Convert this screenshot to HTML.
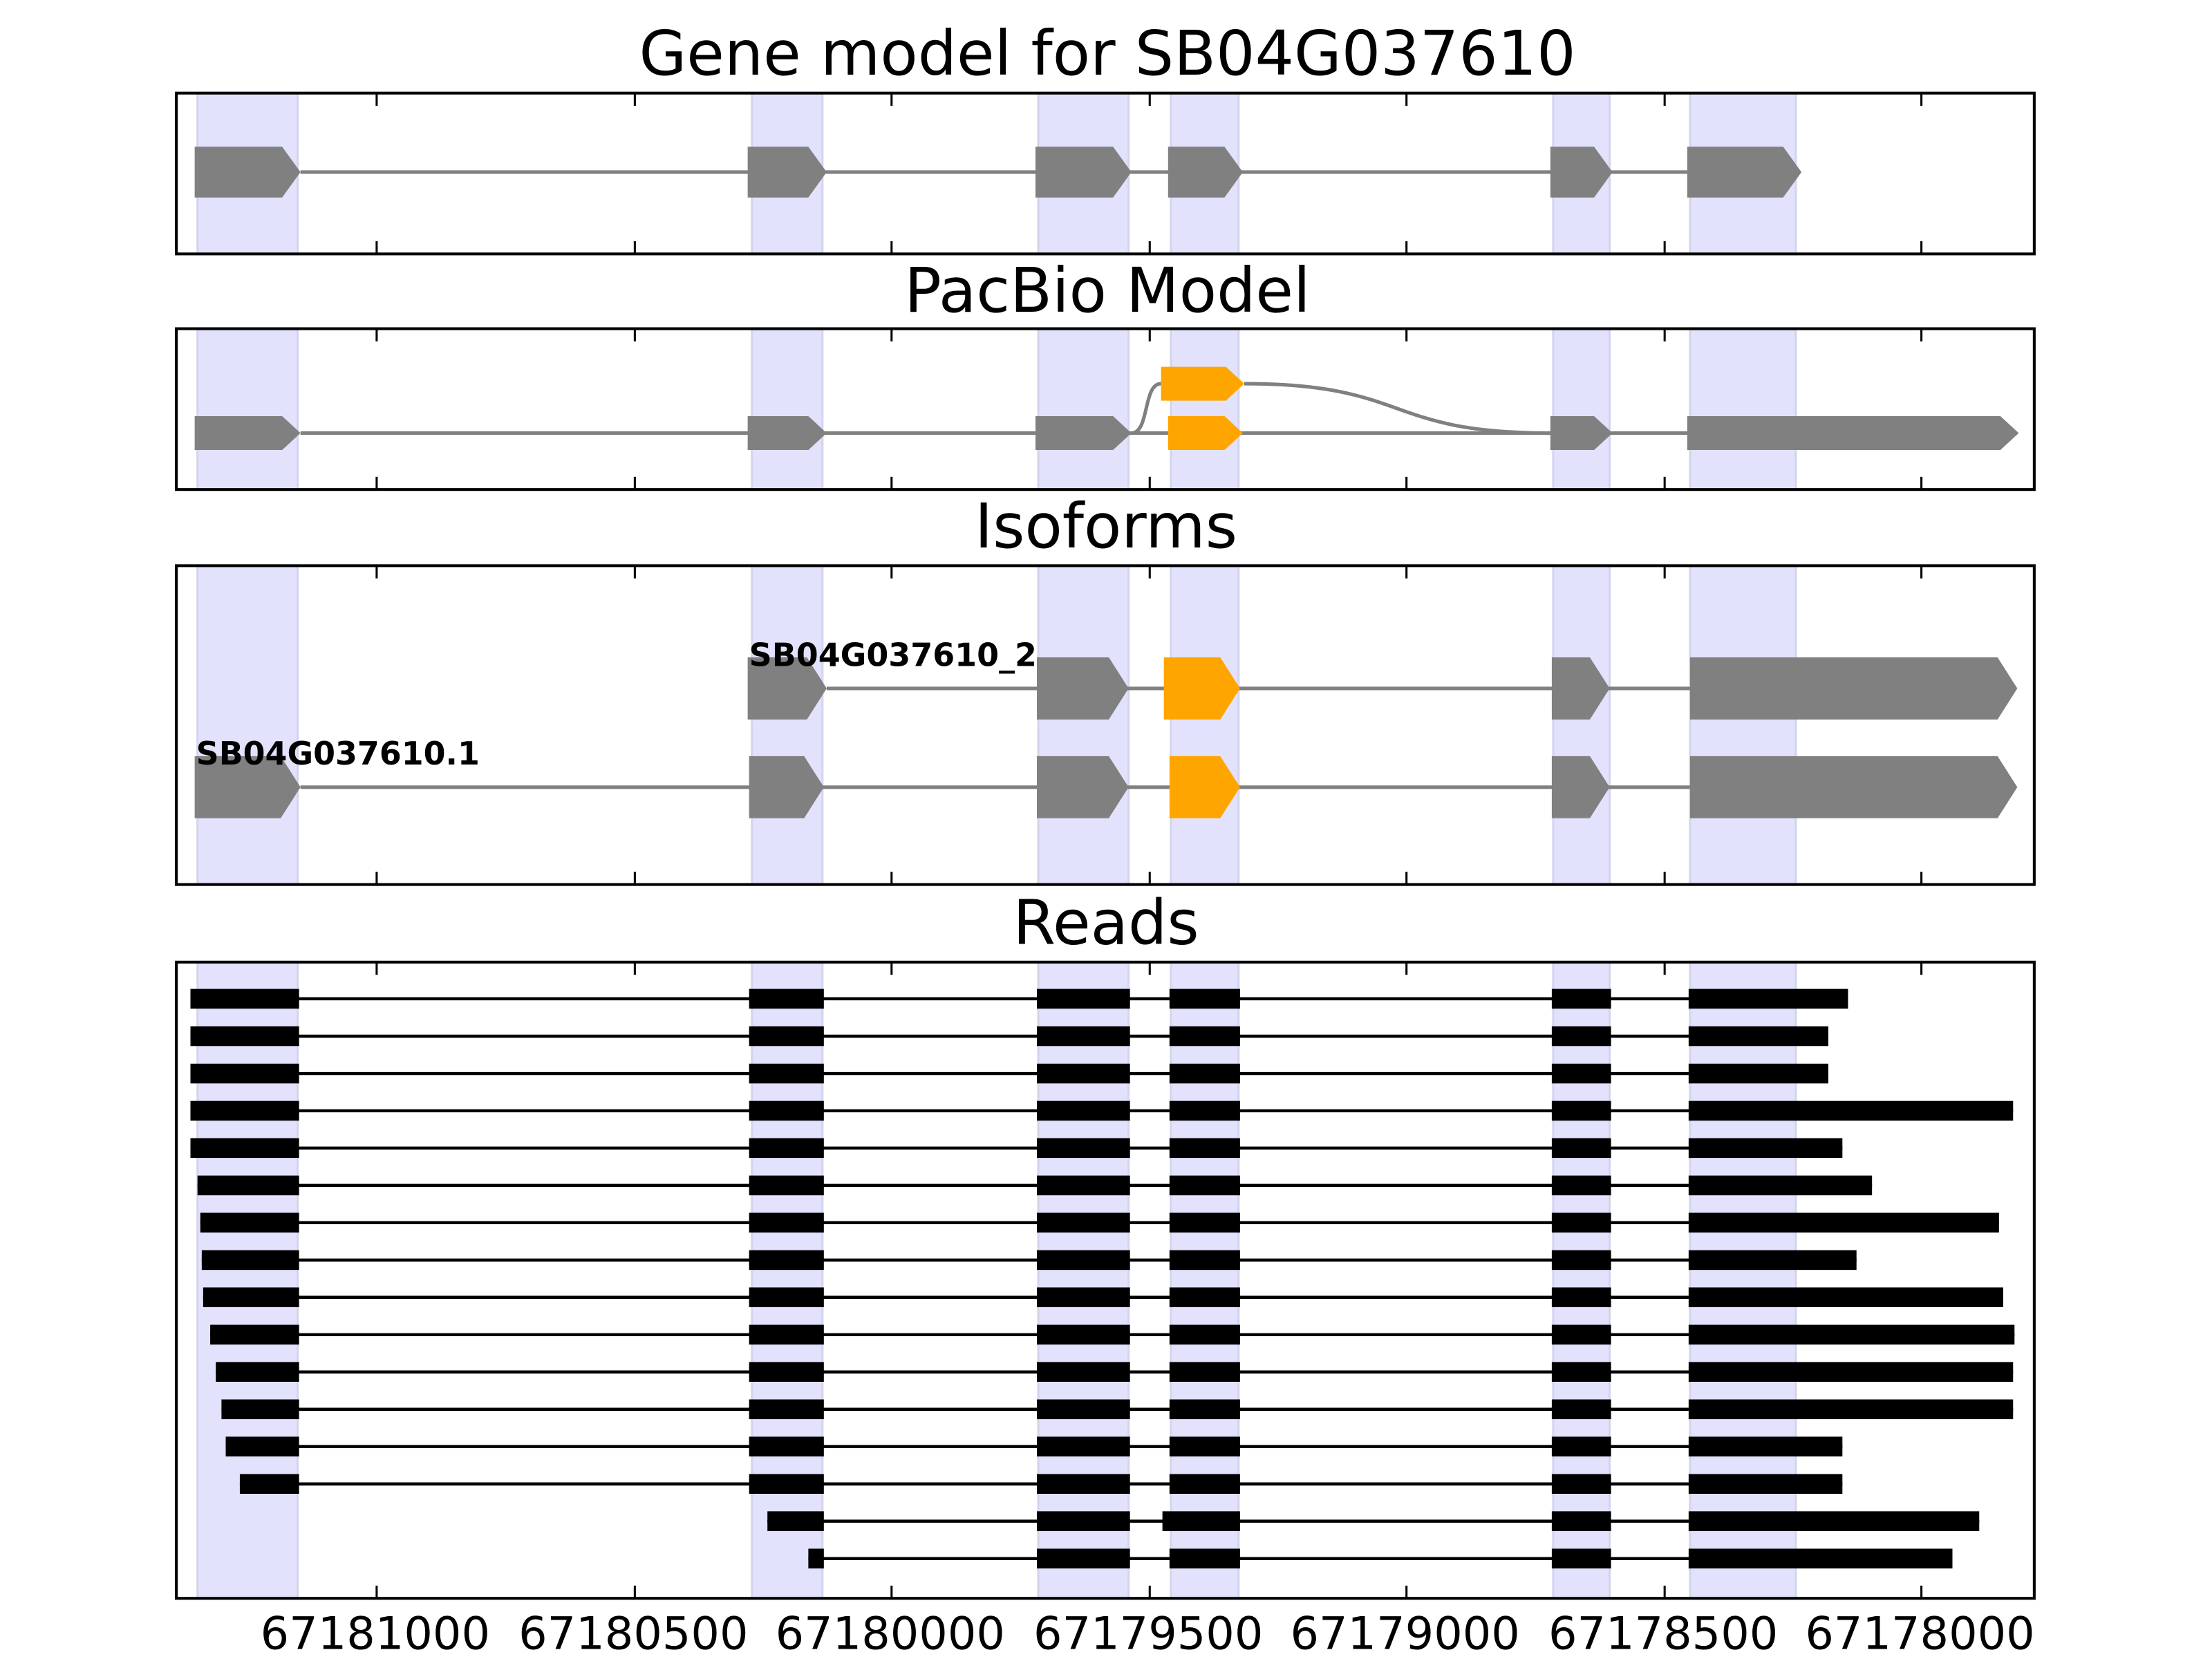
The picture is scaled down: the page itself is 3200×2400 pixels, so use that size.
<!DOCTYPE html>
<html><head><style>html,body{margin:0;padding:0;background:#fff}svg{display:block}</style></head>
<body>
<svg width="3200" height="2400" viewBox="0 0 1568 1176" preserveAspectRatio="none" xmlns="http://www.w3.org/2000/svg" xmlns:xlink="http://www.w3.org/1999/xlink" font-family="DejaVu Sans, Liberation Sans, sans-serif">
<defs>
<g id="mid" fill="#000">
<rect x="531" y="-7" width="53" height="14"/>
<rect x="735" y="-7" width="66" height="14"/>
<rect x="829" y="-7" width="50" height="14"/>
<rect x="1100" y="-7" width="42" height="14"/>
</g>
<g id="tk" stroke="#000" stroke-width="1.5">
<line x1="267" y1="0" x2="267" y2="-9"/><line x1="450" y1="0" x2="450" y2="-9"/><line x1="632" y1="0" x2="632" y2="-9"/><line x1="815" y1="0" x2="815" y2="-9"/><line x1="997" y1="0" x2="997" y2="-9"/><line x1="1180" y1="0" x2="1180" y2="-9"/><line x1="1362" y1="0" x2="1362" y2="-9"/>
</g>
<g id="tkt" stroke="#000" stroke-width="1.5">
<line x1="267" y1="0" x2="267" y2="9"/><line x1="450" y1="0" x2="450" y2="9"/><line x1="632" y1="0" x2="632" y2="9"/><line x1="815" y1="0" x2="815" y2="9"/><line x1="997" y1="0" x2="997" y2="9"/><line x1="1180" y1="0" x2="1180" y2="9"/><line x1="1362" y1="0" x2="1362" y2="9"/>
</g>
</defs>
<g fill="#e2e2fc" stroke="#d4d4ee" stroke-width="1.5">
<rect x="140" y="66" width="71" height="1067"/>
<rect x="533" y="66" width="50" height="1067"/>
<rect x="736" y="66" width="64" height="1067"/>
<rect x="830" y="66" width="48" height="1067"/>
<rect x="1101" y="66" width="40" height="1067"/>
<rect x="1198" y="66" width="75" height="1067"/>
</g>
<g fill="#fff">
<rect x="100" y="181" width="1400" height="51"/>
<rect x="100" y="348" width="1400" height="52"/>
<rect x="100" y="628" width="1400" height="53"/>
</g>
<line x1="213" y1="122" x2="1196" y2="122" stroke="#808080" stroke-width="2.5"/>
<g fill="#808080">
<polygon points="138,104 200,104 213,122 200,140 138,140"/>
<polygon points="530,104 573,104 586,122 573,140 530,140"/>
<polygon points="734,104 789,104 802,122 789,140 734,140"/>
<polygon points="828,104 868,104 881,122 868,140 828,140"/>
<polygon points="1099,104 1130,104 1143,122 1130,140 1099,140"/>
<polygon points="1196,104 1264,104 1277,122 1264,140 1196,140"/>
</g>
<g fill="none" stroke="#808080" stroke-width="2.5">
<path d="M802,307 C815,307 810,272 823,272"/>
<path d="M882,272 C1000,272 980,307 1099,307"/>
<line x1="213" y1="307" x2="1196" y2="307"/>
</g>
<g fill="#808080">
<polygon points="138,295 200,295 213,307 200,319 138,319"/>
<polygon points="530,295 573,295 586,307 573,319 530,319"/>
<polygon points="734,295 789,295 802,307 789,319 734,319"/>
<polygon points="1099,295 1130,295 1143,307 1130,319 1099,319"/>
<polygon points="1196,295 1418,295 1431,307 1418,319 1196,319"/>
</g>
<g fill="#ffa500">
<polygon points="828,295 868,295 881,307 868,319 828,319"/>
<polygon points="823,260 869,260 882,272 869,284 823,284"/>
</g>
<g stroke="#808080" stroke-width="2.5">
<line x1="586" y1="488" x2="1198" y2="488"/>
<line x1="213" y1="558" x2="1198" y2="558"/>
</g>
<g fill="#808080">
<polygon points="530,466 572,466 586,488 572,510 530,510"/>
<polygon points="735,466 786,466 800,488 786,510 735,510"/>
<polygon points="1100,466 1127,466 1141,488 1127,510 1100,510"/>
<polygon points="1198,466 1416,466 1430,488 1416,510 1198,510"/>
<polygon points="138,536 199,536 213,558 199,580 138,580"/>
<polygon points="531,536 570,536 584,558 570,580 531,580"/>
<polygon points="735,536 786,536 800,558 786,580 735,580"/>
<polygon points="1100,536 1127,536 1141,558 1127,580 1100,580"/>
<polygon points="1198,536 1416,536 1430,558 1416,580 1198,580"/>
</g>
<g fill="#ffa500">
<polygon points="825,466 865,466 879,488 865,510 825,510"/>
<polygon points="829,536 865,536 879,558 865,580 829,580"/>
</g>
<text x="531" y="472" font-size="22.5" font-weight="bold" textLength="204" lengthAdjust="spacingAndGlyphs">SB04G037610_2</text>
<text x="139" y="542" font-size="22.5" font-weight="bold" textLength="201" lengthAdjust="spacingAndGlyphs">SB04G037610.1</text>
<g stroke="#000" stroke-width="2.2">
<line x1="135" y1="708" x2="1310" y2="708"/>
<line x1="135" y1="734.5" x2="1296" y2="734.5"/>
<line x1="135" y1="761" x2="1296" y2="761"/>
<line x1="135" y1="787.4" x2="1427" y2="787.4"/>
<line x1="135" y1="813.8" x2="1306" y2="813.8"/>
<line x1="140" y1="840.3" x2="1327" y2="840.3"/>
<line x1="142" y1="866.7" x2="1417" y2="866.7"/>
<line x1="143" y1="893.2" x2="1316" y2="893.2"/>
<line x1="144" y1="919.6" x2="1420" y2="919.6"/>
<line x1="149" y1="946.1" x2="1428" y2="946.1"/>
<line x1="153" y1="972.5" x2="1427" y2="972.5"/>
<line x1="157" y1="999" x2="1427" y2="999"/>
<line x1="160" y1="1025.4" x2="1306" y2="1025.4"/>
<line x1="170" y1="1051.9" x2="1306" y2="1051.9"/>
<line x1="544" y1="1078.3" x2="1403" y2="1078.3"/>
<line x1="573" y1="1104.8" x2="1384" y2="1104.8"/>
</g>
<g fill="#000">
<g transform="translate(0,708)"><rect x="135" y="-7" width="77" height="14"/><use xlink:href="#mid" href="#mid"/><rect x="1197" y="-7" width="113" height="14"/></g>
<g transform="translate(0,734.5)"><rect x="135" y="-7" width="77" height="14"/><use xlink:href="#mid" href="#mid"/><rect x="1197" y="-7" width="99" height="14"/></g>
<g transform="translate(0,761)"><rect x="135" y="-7" width="77" height="14"/><use xlink:href="#mid" href="#mid"/><rect x="1197" y="-7" width="99" height="14"/></g>
<g transform="translate(0,787.4)"><rect x="135" y="-7" width="77" height="14"/><use xlink:href="#mid" href="#mid"/><rect x="1197" y="-7" width="230" height="14"/></g>
<g transform="translate(0,813.8)"><rect x="135" y="-7" width="77" height="14"/><use xlink:href="#mid" href="#mid"/><rect x="1197" y="-7" width="109" height="14"/></g>
<g transform="translate(0,840.3)"><rect x="140" y="-7" width="72" height="14"/><use xlink:href="#mid" href="#mid"/><rect x="1197" y="-7" width="130" height="14"/></g>
<g transform="translate(0,866.7)"><rect x="142" y="-7" width="70" height="14"/><use xlink:href="#mid" href="#mid"/><rect x="1197" y="-7" width="220" height="14"/></g>
<g transform="translate(0,893.2)"><rect x="143" y="-7" width="69" height="14"/><use xlink:href="#mid" href="#mid"/><rect x="1197" y="-7" width="119" height="14"/></g>
<g transform="translate(0,919.6)"><rect x="144" y="-7" width="68" height="14"/><use xlink:href="#mid" href="#mid"/><rect x="1197" y="-7" width="223" height="14"/></g>
<g transform="translate(0,946.1)"><rect x="149" y="-7" width="63" height="14"/><use xlink:href="#mid" href="#mid"/><rect x="1197" y="-7" width="231" height="14"/></g>
<g transform="translate(0,972.5)"><rect x="153" y="-7" width="59" height="14"/><use xlink:href="#mid" href="#mid"/><rect x="1197" y="-7" width="230" height="14"/></g>
<g transform="translate(0,999)"><rect x="157" y="-7" width="55" height="14"/><use xlink:href="#mid" href="#mid"/><rect x="1197" y="-7" width="230" height="14"/></g>
<g transform="translate(0,1025.4)"><rect x="160" y="-7" width="52" height="14"/><use xlink:href="#mid" href="#mid"/><rect x="1197" y="-7" width="109" height="14"/></g>
<g transform="translate(0,1051.9)"><rect x="170" y="-7" width="42" height="14"/><use xlink:href="#mid" href="#mid"/><rect x="1197" y="-7" width="109" height="14"/></g>
<g transform="translate(0,1078.3)"><rect x="544" y="-7" width="40" height="14"/><rect x="735" y="-7" width="66" height="14"/><rect x="824" y="-7" width="55" height="14"/><rect x="1100" y="-7" width="42" height="14"/><rect x="1197" y="-7" width="206" height="14"/></g>
<g transform="translate(0,1104.8)"><rect x="573" y="-7" width="11" height="14"/><rect x="735" y="-7" width="66" height="14"/><rect x="829" y="-7" width="50" height="14"/><rect x="1100" y="-7" width="42" height="14"/><rect x="1197" y="-7" width="187" height="14"/></g>
</g>
<g fill="none" stroke="#000" stroke-width="2">
<rect x="125" y="66" width="1317" height="114"/>
<rect x="125" y="233" width="1317" height="114"/>
<rect x="125" y="401" width="1317" height="226"/>
<rect x="125" y="682" width="1317" height="451"/>
</g>
<use xlink:href="#tk" href="#tk" transform="translate(0,180)"/>
<use xlink:href="#tk" href="#tk" transform="translate(0,347)"/>
<use xlink:href="#tk" href="#tk" transform="translate(0,627)"/>
<use xlink:href="#tk" href="#tk" transform="translate(0,1133)"/>
<use xlink:href="#tkt" href="#tkt" transform="translate(0,66)"/>
<use xlink:href="#tkt" href="#tkt" transform="translate(0,233)"/>
<use xlink:href="#tkt" href="#tkt" transform="translate(0,401)"/>
<use xlink:href="#tkt" href="#tkt" transform="translate(0,682)"/>
<g font-size="43.5" text-anchor="middle" fill="#000">
<text x="785" y="53">Gene model for SB04G037610</text>
<text x="785" y="221">PacBio Model</text>
<text x="784" y="388">Isoforms</text>
<text x="784" y="669">Reads</text>
</g>
<g font-size="32" text-anchor="middle" fill="#000">
<text x="266" y="1169">67181000</text>
<text x="449" y="1169">67180500</text>
<text x="631" y="1169">67180000</text>
<text x="814" y="1169">67179500</text>
<text x="996" y="1169">67179000</text>
<text x="1179" y="1169">67178500</text>
<text x="1361" y="1169">67178000</text>
</g>
</svg>
</body></html>
